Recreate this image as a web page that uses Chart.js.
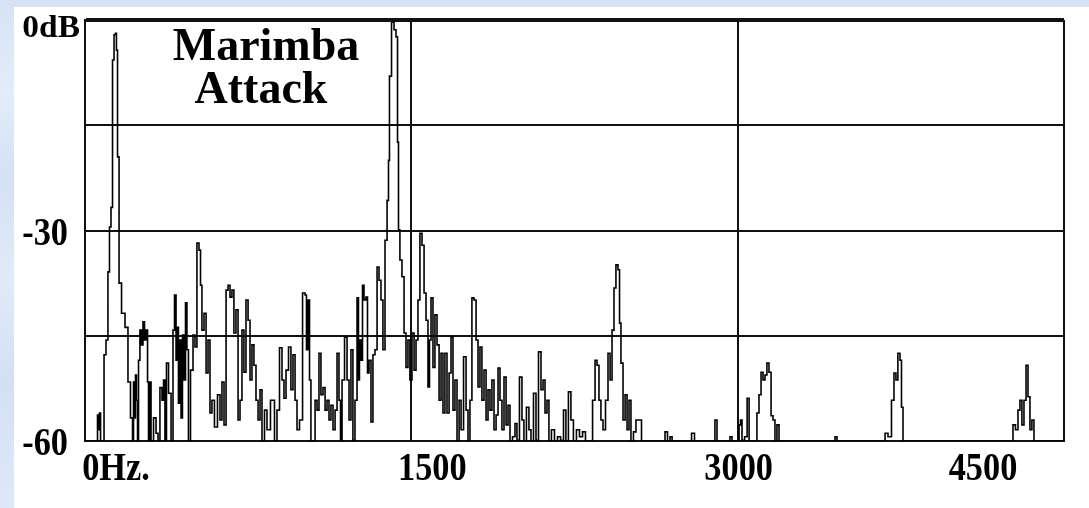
<!DOCTYPE html>
<html>
<head>
<meta charset="utf-8">
<script src="https://cdn.jsdelivr.net/npm/chart.js"></script>
<style>
  html, body { margin: 0; padding: 0; }
  body {
    width: 1089px; height: 508px; overflow: hidden; position: relative;
    background: linear-gradient(to bottom, #d6e2f5 0%, #e3ecf9 18%, #d4e1f4 35%, #e1eaf8 55%, #d3e0f4 75%, #dfe8f8 100%);
  }
  #paper { position: absolute; left: 14px; top: 7px; right: 0; bottom: 0; background: #fff; }
  #spectrum { position: absolute; left: 0; top: 0; }
</style>
</head>
<body>
<div id="paper"></div>
<canvas id="spectrum" width="1089" height="508"></canvas>
<script>
// spectrum: frequency (Hz) and level (dB)
const freqs = [
  0, 50, 55, 60, 64, 69, 74, 83, 92, 101, 110, 115, 124, 129, 138, 142, 147, 152, 161, 175,
  193, 202, 216, 221, 225, 230, 234, 239, 244, 248, 257, 262, 271, 276, 285, 290, 294, 299, 308, 322,
  331, 340, 349, 359, 363, 372, 377, 391, 400, 409, 414, 423, 427, 432, 437, 446, 450, 460, 464, 473,
  478, 492, 501, 510, 519, 529, 533, 542, 552, 561, 570, 579, 588, 602, 616, 625, 634, 644, 653, 662,
  671, 680, 689, 699, 708, 717, 726, 735, 745, 754, 763, 772, 781, 791, 800, 809, 818, 832, 841, 864,
  878, 887, 901, 910, 919, 929, 942, 951, 961, 970, 979, 993, 1007, 1016, 1020, 1030, 1034, 1043, 1053, 1062,
  1071, 1080, 1089, 1099, 1108, 1117, 1126, 1135, 1145, 1154, 1163, 1172, 1177, 1186, 1200, 1209, 1218, 1227, 1236, 1246,
  1255, 1259, 1264, 1273, 1278, 1287, 1296, 1301, 1310, 1319, 1328, 1338, 1347, 1356, 1365, 1374, 1384, 1393, 1397, 1402,
  1416, 1425, 1434, 1439, 1443, 1452, 1462, 1471, 1480, 1489, 1498, 1508, 1517, 1526, 1535, 1544, 1554, 1563, 1572, 1581,
  1586, 1595, 1604, 1613, 1623, 1632, 1641, 1650, 1659, 1669, 1678, 1687, 1696, 1705, 1715, 1724, 1733, 1747, 1756, 1765,
  1774, 1783, 1793, 1802, 1811, 1820, 1829, 1839, 1848, 1857, 1866, 1875, 1885, 1894, 1903, 1912, 1921, 1931, 1940, 1949,
  1958, 1972, 1981, 1990, 2004, 2013, 2022, 2036, 2045, 2055, 2068, 2078, 2091, 2101, 2110, 2119, 2128, 2137, 2151, 2165,
  2179, 2193, 2206, 2215, 2229, 2238, 2252, 2266, 2280, 2294, 2307, 2326, 2340, 2349, 2358, 2367, 2376, 2386, 2399, 2409,
  2418, 2427, 2436, 2445, 2455, 2459, 2468, 2478, 2487, 2496, 2505, 2514, 2528, 2537, 2551, 2565, 2661, 2671, 2684, 2694,
  2703, 2781, 2795, 2808, 2891, 2900, 2910, 2960, 2969, 2979, 3002, 3011, 3015, 3025, 3039, 3048, 3057, 3084, 3093, 3103,
  3112, 3121, 3130, 3139, 3149, 3158, 3167, 3176, 3185, 3195, 3443, 3452, 3461, 3673, 3682, 3700, 3714, 3723, 3732, 3741,
  3751, 3755, 3765, 4261, 4270, 4284, 4293, 4302, 4311, 4321, 4330, 4339, 4348, 4357, 4367, 4500
];
const levels = [
  -60, -60, -60, -56.3, -58.4, -56, -60, -60, -47.7, -45.6, -35.9, -29.5, -26.7, -5.7, -2.1, -1.9, -4.3, -19.5, -37.5, -41.8,
  -43.8, -51.6, -56.7, -60, -51.6, -56.7, -50.6, -54.2, -60, -48.5, -44.2, -46.3, -43, -45.6, -44.2, -51.6, -60, -51.6, -60, -56.7,
  -58.9, -60, -52.4, -54.2, -51.3, -60, -48.9, -53.2, -60, -44.2, -39.2, -48.5, -43.8, -54.6, -45.6, -56.7, -44.9, -51.3, -40.3, -47,
  -60, -49.9, -44.9, -46.6, -31.8, -32.8, -37.8, -44.2, -41.8, -50.3, -45.6, -56, -54.2, -58, -53.4, -57, -51.6, -57.7, -38.5, -37.8,
  -39.5, -38.5, -44.6, -41.3, -57, -54.2, -44.2, -50.2, -39.9, -42.8, -51.3, -46.3, -49.2, -54.2, -57, -52.7, -60, -55.6, -58.4, -54.2,
  -60, -55.6, -46.7, -51.3, -53.9, -49.9, -46.6, -52.7, -47.7, -54.2, -58.4, -57, -38.9, -39.2, -47, -39.9, -51.3, -60, -60, -54.2,
  -55.6, -47.5, -53.4, -52.4, -55.6, -54.2, -57, -54.9, -58.4, -55.6, -47.5, -54.2, -60, -51.3, -45.2, -51.3, -57, -47, -59.9, -54.2,
  -39.6, -51.3, -45.6, -48.5, -37.8, -39.9, -39.5, -50.3, -48.5, -57.3, -47.7, -47, -35.2, -37.1, -39.9, -47, -31.4, -25.7, -20, -8,
  -0.3, -1.4, -2.4, -17.4, -29.9, -34.2, -36.6, -44.6, -49.5, -45.6, -51.3, -44.6, -49.9, -45.6, -39.9, -30.4, -32.1, -38.9, -42.8, -52.3,
  -45.6, -39.6, -49.5, -42, -46.3, -54.2, -47.5, -56, -47.5, -56, -50.3, -45.2, -55.6, -51.3, -60, -54.2, -58.4, -48, -55.6, -60,
  -54.2, -39.6, -39.9, -45.6, -52.3, -46.6, -54.2, -49.9, -57, -52.7, -55.6, -51.3, -58.4, -56.3, -49.6, -54.2, -58.4, -50.9, -57.7, -54.9,
  -60, -59.4, -57.5, -59.9, -50.9, -57, -60, -55.2, -58.4, -60, -53.2, -59.9, -47.3, -52.7, -51.3, -56, -54.2, -60, -58.4, -60,
  -59.4, -59.9, -55.6, -60, -53, -57, -60, -58.4, -59.4, -58.7, -60, -60, -54.2, -48.5, -49.2, -54.2, -57, -58.4, -54.2, -47.5,
  -51.3, -44.2, -38.2, -34.9, -35.6, -43.2, -48.9, -57, -53.4, -58.4, -54.2, -60, -58.7, -57, -57, -60, -60, -58.7, -60, -59.4,
  -60, -60, -58.9, -60, -60, -57, -60, -60, -59.4, -60, -60, -57.7, -57, -59.9, -59.4, -53.9, -60, -60, -56, -53.4,
  -50.2, -51.3, -50.6, -48.9, -50.2, -56.4, -57, -60, -57.7, -60, -60, -59.4, -60, -60, -58.9, -59.4, -54.2, -50.3, -51.3, -47.5,
  -48.5, -55.2, -60, -60, -57.7, -58.4, -55.6, -54.2, -57.7, -54.2, -49.2, -53.7, -58.4, -57, -60, -60
];

const xTicks = [0, 1500, 3000, 4500];
const xLabels = ['0Hz.', '1500', '3000', '4500'];
const yTicks = [0, -30, -60];
const yLabels = ['0dB', '-30', '-60'];
const titleLines = ['Marimba', 'Attack'];

const points = freqs.map((f, i) => ({ x: f, y: levels[i] }));

const serif = '"Liberation Serif", "Times New Roman", serif';

// the old picture prints its tick labels a bit off the grid lines
const xLabelShift = [31, 21, 1, -81];

const labelsPlugin = {
  id: 'labelsPlugin',
  afterDraw(chart) {
    const ctx = chart.ctx;
    const x = chart.scales.x;
    const y = chart.scales.y;
    ctx.save();
    ctx.fillStyle = '#000';
    ctx.textBaseline = 'alphabetic';

    ctx.font = 'bold 39px ' + serif;
    ctx.textAlign = 'center';
    xLabels.forEach((lab, i) => {
      ctx.save();
      ctx.translate(x.getPixelForValue(xTicks[i]) + xLabelShift[i], y.bottom + 39);
      ctx.scale(0.88, 1);
      ctx.fillText(lab, 0, 0);
      ctx.restore();
    });

    ctx.textAlign = 'right';
    yLabels.forEach((lab, i) => {
      ctx.save();
      if (i === 0) {
        ctx.font = 'bold 31px ' + serif;
        ctx.translate(x.left - 5, y.getPixelForValue(yTicks[i]) + 17);
        ctx.scale(1.08, 1);
      } else {
        ctx.translate(x.left - 17, y.getPixelForValue(yTicks[i]) + 14);
        ctx.scale(0.88, 1);
      }
      ctx.fillText(lab, 0, 0);
      ctx.restore();
    });

    ctx.font = 'bold 46px ' + serif;
    ctx.textAlign = 'center';
    ctx.fillText(titleLines[0], x.left + 181, y.top + 40);
    ctx.fillText(titleLines[1], x.left + 176, y.top + 83);
    ctx.restore();
  }
};

const canvas = document.querySelector('#spectrum');

new Chart(canvas, {
  type: 'line',
  data: {
    datasets: [{
      label: 'Marimba Attack',
      data: points,
      borderColor: '#000',
      borderWidth: 1.6,
      pointRadius: 0,
      stepped: 'middle',
      fill: false
    }]
  },
  options: {
    responsive: false,
    animation: false,
    layout: { padding: { left: 85, right: 25, top: 20, bottom: 67 } },
    plugins: {
      legend: { display: false },
      tooltip: { enabled: false }
    },
    scales: {
      x: {
        type: 'linear',
        min: 0,
        max: 4500,
        ticks: { stepSize: 1500, display: false },
        grid: { color: '#111', lineWidth: 2, drawTicks: false },
        border: { color: '#111', width: 2 }
      },
      y: {
        min: -60,
        max: 0,
        ticks: { stepSize: 15, display: false },
        grid: {
          color: '#111',
          lineWidth: c => (c.tick && c.tick.value === 0 ? 4 : 2),
          drawTicks: false
        },
        border: { color: '#111', width: 2 }
      }
    }
  },
  plugins: [labelsPlugin]
});
</script>
</body>
</html>
